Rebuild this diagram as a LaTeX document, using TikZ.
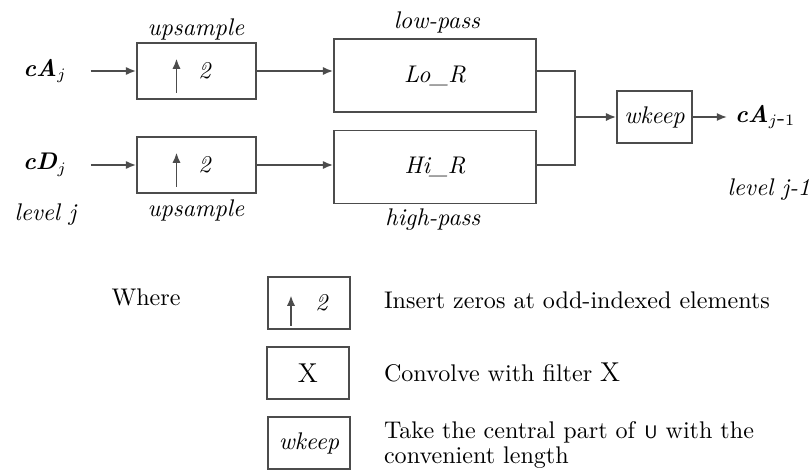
\documentclass[tikz,border=0pt]{standalone}
\usetikzlibrary{arrows.meta}
\begin{document}
\begin{tikzpicture}[x=0.44pt,y=-0.44pt,
  font=\fontsize{10.6}{12.7}\selectfont,
  >={Latex[length=4.5pt,width=3.6pt]},
  blk/.style={draw=black!70,line width=0.75pt,inner sep=0pt},
  upbox/.style={blk,minimum width=52.4pt,minimum height=24.4pt},
  filt/.style={blk,minimum width=88.9pt,minimum height=32pt},
  keybox/.style={blk,minimum width=36pt,minimum height=22.6pt},
  wire/.style={black!70,line width=0.75pt}]
\useasboundingbox (0,0) rectangle (811,475);
\node (cAj) at (45,71) {\textit{\textbf{cA}}$_j$};
\node (cDj) at (45,165) {\textit{\textbf{cD}}$_j$};
\node (levj) at (46,215) {\textit{level j}};
\node[upbox] (up1) at (196.5,71) {\hspace{7.5pt}\textit{2}};
\node[upbox] (up2) at (196.5,165) {\hspace{7.5pt}\textit{2}};
\node (upl1) at (196,29) {\textit{upsample}};
\node (upl2) at (196,210) {\textit{upsample}};
\node[filt] (lor) at (435,75.5) {\textit{Lo\_R}};
\node[filt] (hir) at (435,167) {\textit{Hi\_R}};
\node (lpl) at (437,22) {\textit{low-pass}};
\node (hpl) at (433,220) {\textit{high-pass}};
\coordinate (jn) at (575,117);
\node[blk,minimum width=33pt,minimum height=22.9pt] (wk) at (654.5,117) {\textit{wkeep}};
\node[anchor=west] (cAjj) at (727,117) {\textit{\textbf{cA}}$_{j\mbox{-}1}$};
\node (levjj) at (769,190) {\textit{level j-1}};
\draw[wire,->,shorten <=7pt] (cAj) -- (up1);
\draw[wire,->,shorten <=7pt] (cDj) -- (up2);
\draw[wire,->] (up1.south) ++(-20,-7) -- ++(0,-34);
\draw[wire,->] (up2.south) ++(-20,-7) -- ++(0,-34);
\draw[wire,->] (up1) -- (up1 -| lor.west);
\draw[wire,->] (up2) -- (up2 -| hir.west);
\draw[wire] (lor.east |- up1) -| (jn);
\draw[wire] (hir.east |- up2) -| (jn);
\draw[wire,->] (jn) -- (wk);
\draw[wire,->] (wk) -- (wk -| cAjj.west);
\node (where) at (146,297) {Where};
\node[keybox] (k1) at (309,303) {\hspace{11.4pt}\textit{2}};
\draw[wire,->] (k1.south) ++(-18,-4) -- ++(0,-30);
\node[keybox] (k2) at (308,373) {\large X};
\node[keybox] (k3) at (309,443) {\textit{wkeep}};
\node[anchor=west] (t1) at (376,300) {Insert zeros at odd-indexed elements};
\node[anchor=west] (t2) at (376,372) {Convolve with filter {\large X}};
\node[anchor=west,align=left] (t3) at (376,445) {Take the central part of \textsf{\footnotesize U} with the\\[-1.5pt]convenient length};
\end{tikzpicture}
\end{document}
